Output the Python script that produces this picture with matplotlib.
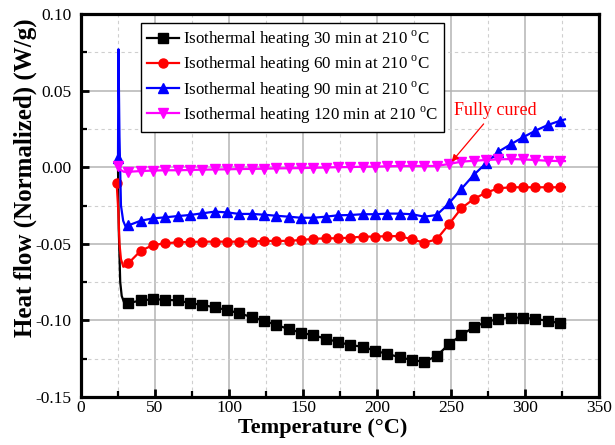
import matplotlib
matplotlib.use("Agg")
import matplotlib.pyplot as plt
from matplotlib.ticker import MultipleLocator, FormatStrFormatter

plt.rcParams['font.family'] = ['Liberation Serif', 'DejaVu Serif']
plt.rcParams['mathtext.fontset'] = 'custom'
plt.rcParams['mathtext.rm'] = 'Liberation Serif'
plt.rcParams['axes.unicode_minus'] = False

# Temperatures (°C) at which markers are drawn (shared by all runs)
temp_marked = [32.0, 40.4, 48.8, 57.0, 65.3, 73.6, 82.0, 90.3, 98.6, 107.0,
               115.3, 123.6, 132.0, 140.3, 148.6, 157.0, 165.3, 173.6, 182.0,
               190.3, 198.6, 207.0, 215.3, 223.6, 232.0, 240.3, 248.6, 257.0,
               265.3, 273.6, 282.0, 290.3, 298.6, 307.0, 315.3, 323.6]
temp_end = 327.0

# Initial transients
temp_start_30 = [25.0, 25.5, 26.5, 27.5, 29.0]
hf_start_30 = [0.0, -0.040, -0.075, -0.084, -0.088]
temp_start_60 = [24.1, 25.3, 26.0, 27.0, 28.6, 30.0]
hf_start_60 = [-0.0105, -0.030, -0.050, -0.060, -0.065, -0.0645]
temp_start_90 = [25.0, 25.3, 26.0, 27.0, 28.5, 30.0]
hf_start_90 = [0.006, 0.077, 0.020, -0.025, -0.035, -0.0385]
temp_start_120 = [25.0, 27.0, 29.0]
hf_start_120 = [0.0005, -0.002, -0.003]
# whether the first transient point carries a marker
start_marked = [False, True, True, True]

# Heat flow (W/g) at the marked temperatures
hf_30 = [-0.0887, -0.0870, -0.0862, -0.0865, -0.0870, -0.0887, -0.0899, -0.0915,
         -0.0932, -0.0954, -0.0978, -0.1002, -0.1030, -0.1056, -0.1080, -0.1097,
         -0.1119, -0.1141, -0.1161, -0.1172, -0.1198, -0.1219, -0.1240, -0.1259,
         -0.1270, -0.1232, -0.1156, -0.1095, -0.1045, -0.1010, -0.0991, -0.0982,
         -0.0982, -0.0991, -0.1002, -0.1019]
hf_60 = [-0.0627, -0.0545, -0.0508, -0.0497, -0.0490, -0.0488, -0.0486, -0.0486,
         -0.0486, -0.0486, -0.0486, -0.0481, -0.0481, -0.0481, -0.0475, -0.0468,
         -0.0464, -0.0464, -0.0460, -0.0453, -0.0453, -0.0450, -0.0450, -0.0471,
         -0.0493, -0.0471, -0.0373, -0.0268, -0.0208, -0.0166, -0.0138, -0.0131,
         -0.0131, -0.0131, -0.0131, -0.0131]
hf_90 = [-0.0380, -0.0349, -0.0334, -0.0327, -0.0319, -0.0312, -0.0301, -0.0290,
         -0.0295, -0.0305, -0.0305, -0.0310, -0.0317, -0.0323, -0.0330, -0.0330,
         -0.0323, -0.0314, -0.0312, -0.0307, -0.0307, -0.0303, -0.0303, -0.0307,
         -0.0323, -0.0312, -0.0236, -0.0142, -0.0051, 0.0025, 0.0101, 0.0149,
         0.0195, 0.0238, 0.0275, 0.0303]
hf_120 = [-0.0030, -0.0025, -0.0022, -0.0020, -0.0020, -0.0018, -0.0016, -0.0015,
          -0.0014, -0.0012, -0.0011, -0.0010, -0.0008, -0.0007, -0.0006, -0.0004,
          -0.0002, 0.0000, 0.0001, 0.0003, 0.0004, 0.0006, 0.0008, 0.0008,
          0.0008, 0.0008, 0.0021, 0.0036, 0.0042, 0.0047, 0.0051, 0.0053,
          0.0051, 0.0047, 0.0042, 0.0040]
hf_end = [-0.1025, -0.0130, 0.0312, 0.0040]

labels = [r'Isothermal heating 30 min at 210 $^{\mathregular{o}}$C',
          r'Isothermal heating 60 min at 210 $^{\mathregular{o}}$C',
          r'Isothermal heating 90 min at 210 $^{\mathregular{o}}$C',
          r'Isothermal heating 120 min at 210 $^{\mathregular{o}}$C']
colors = ['black', 'red', 'blue', 'magenta']
markers = ['s', 'o', '^', 'v']

W, H = 615, 445
fig = plt.figure(figsize=(W / 100, H / 100), dpi=100)
ax = fig.add_axes([81 / W, 1 - 397 / H, 518 / W, 383 / H])

series = [
    (temp_start_30, hf_start_30, hf_30, hf_end[0]),
    (temp_start_60, hf_start_60, hf_60, hf_end[1]),
    (temp_start_90, hf_start_90, hf_90, hf_end[2]),
    (temp_start_120, hf_start_120, hf_120, hf_end[3]),
]
for (ts, hs, hm, he), first, lab, c, m in zip(series, start_marked, labels,
                                              colors, markers):
    t = list(ts) + temp_marked + [temp_end]
    h = list(hs) + hm + [he]
    n0 = len(ts)
    marks = ([0] if first else []) + list(range(n0, n0 + len(temp_marked)))
    ax.plot(t, h, color=c, lw=1.6, marker=m, markersize=6.5,
            markevery=marks, label=lab, zorder=3)

ax.set_xlim(0, 350)
ax.set_ylim(-0.15, 0.10)
ax.xaxis.set_major_locator(MultipleLocator(50))
ax.xaxis.set_minor_locator(MultipleLocator(25))
ax.yaxis.set_major_locator(MultipleLocator(0.05))
ax.yaxis.set_minor_locator(MultipleLocator(0.025))
ax.yaxis.set_major_formatter(FormatStrFormatter('%.2f'))

ax.grid(which='major', color='#b4b4b4', lw=1.1, ls='-', zorder=0)
ax.grid(which='minor', color='#cfcfcf', lw=0.8, ls=(0, (3, 3)), zorder=0)
ax.set_axisbelow(True)

for s in ax.spines.values():
    s.set_linewidth(2.3)
ax.tick_params(which='both', direction='in', top=False, right=False,
               labelsize=12.5)
ax.tick_params(which='major', length=6, width=2)
ax.tick_params(which='minor', length=4, width=1.6)
ax.tick_params(axis='x', which='major', pad=2)
ax.tick_params(axis='y', which='major', pad=7)

ax.set_xlabel('Temperature (°C)', fontsize=16, fontweight='bold', va='top')
ax.xaxis.set_label_coords(0.467, -0.056)
ax.set_ylabel('Heat flow (Normalized) (W/g)', fontsize=18, fontweight='bold')
ax.yaxis.set_label_coords(-0.085, 0.572)

leg = ax.legend(loc='upper left',
                bbox_to_anchor=((141 - 81) / 518, (397 - 23) / 383),
                borderaxespad=0, fontsize=12.2, frameon=True, fancybox=False,
                edgecolor='black', framealpha=1, numpoints=1,
                handlelength=1.9, handletextpad=0.25, labelspacing=0.22,
                borderpad=0.35)
leg.get_frame().set_linewidth(1.0)

ax.annotate('Fully cured', xy=(250.5, 0.0036), xytext=(279.7, 0.037),
            color='red', fontsize=13, ha='center', va='center',
            arrowprops=dict(arrowstyle='-|>', color='red', lw=0.9,
                            mutation_scale=10, shrinkA=2, shrinkB=0))

fig.savefig('out.png', dpi=100)
